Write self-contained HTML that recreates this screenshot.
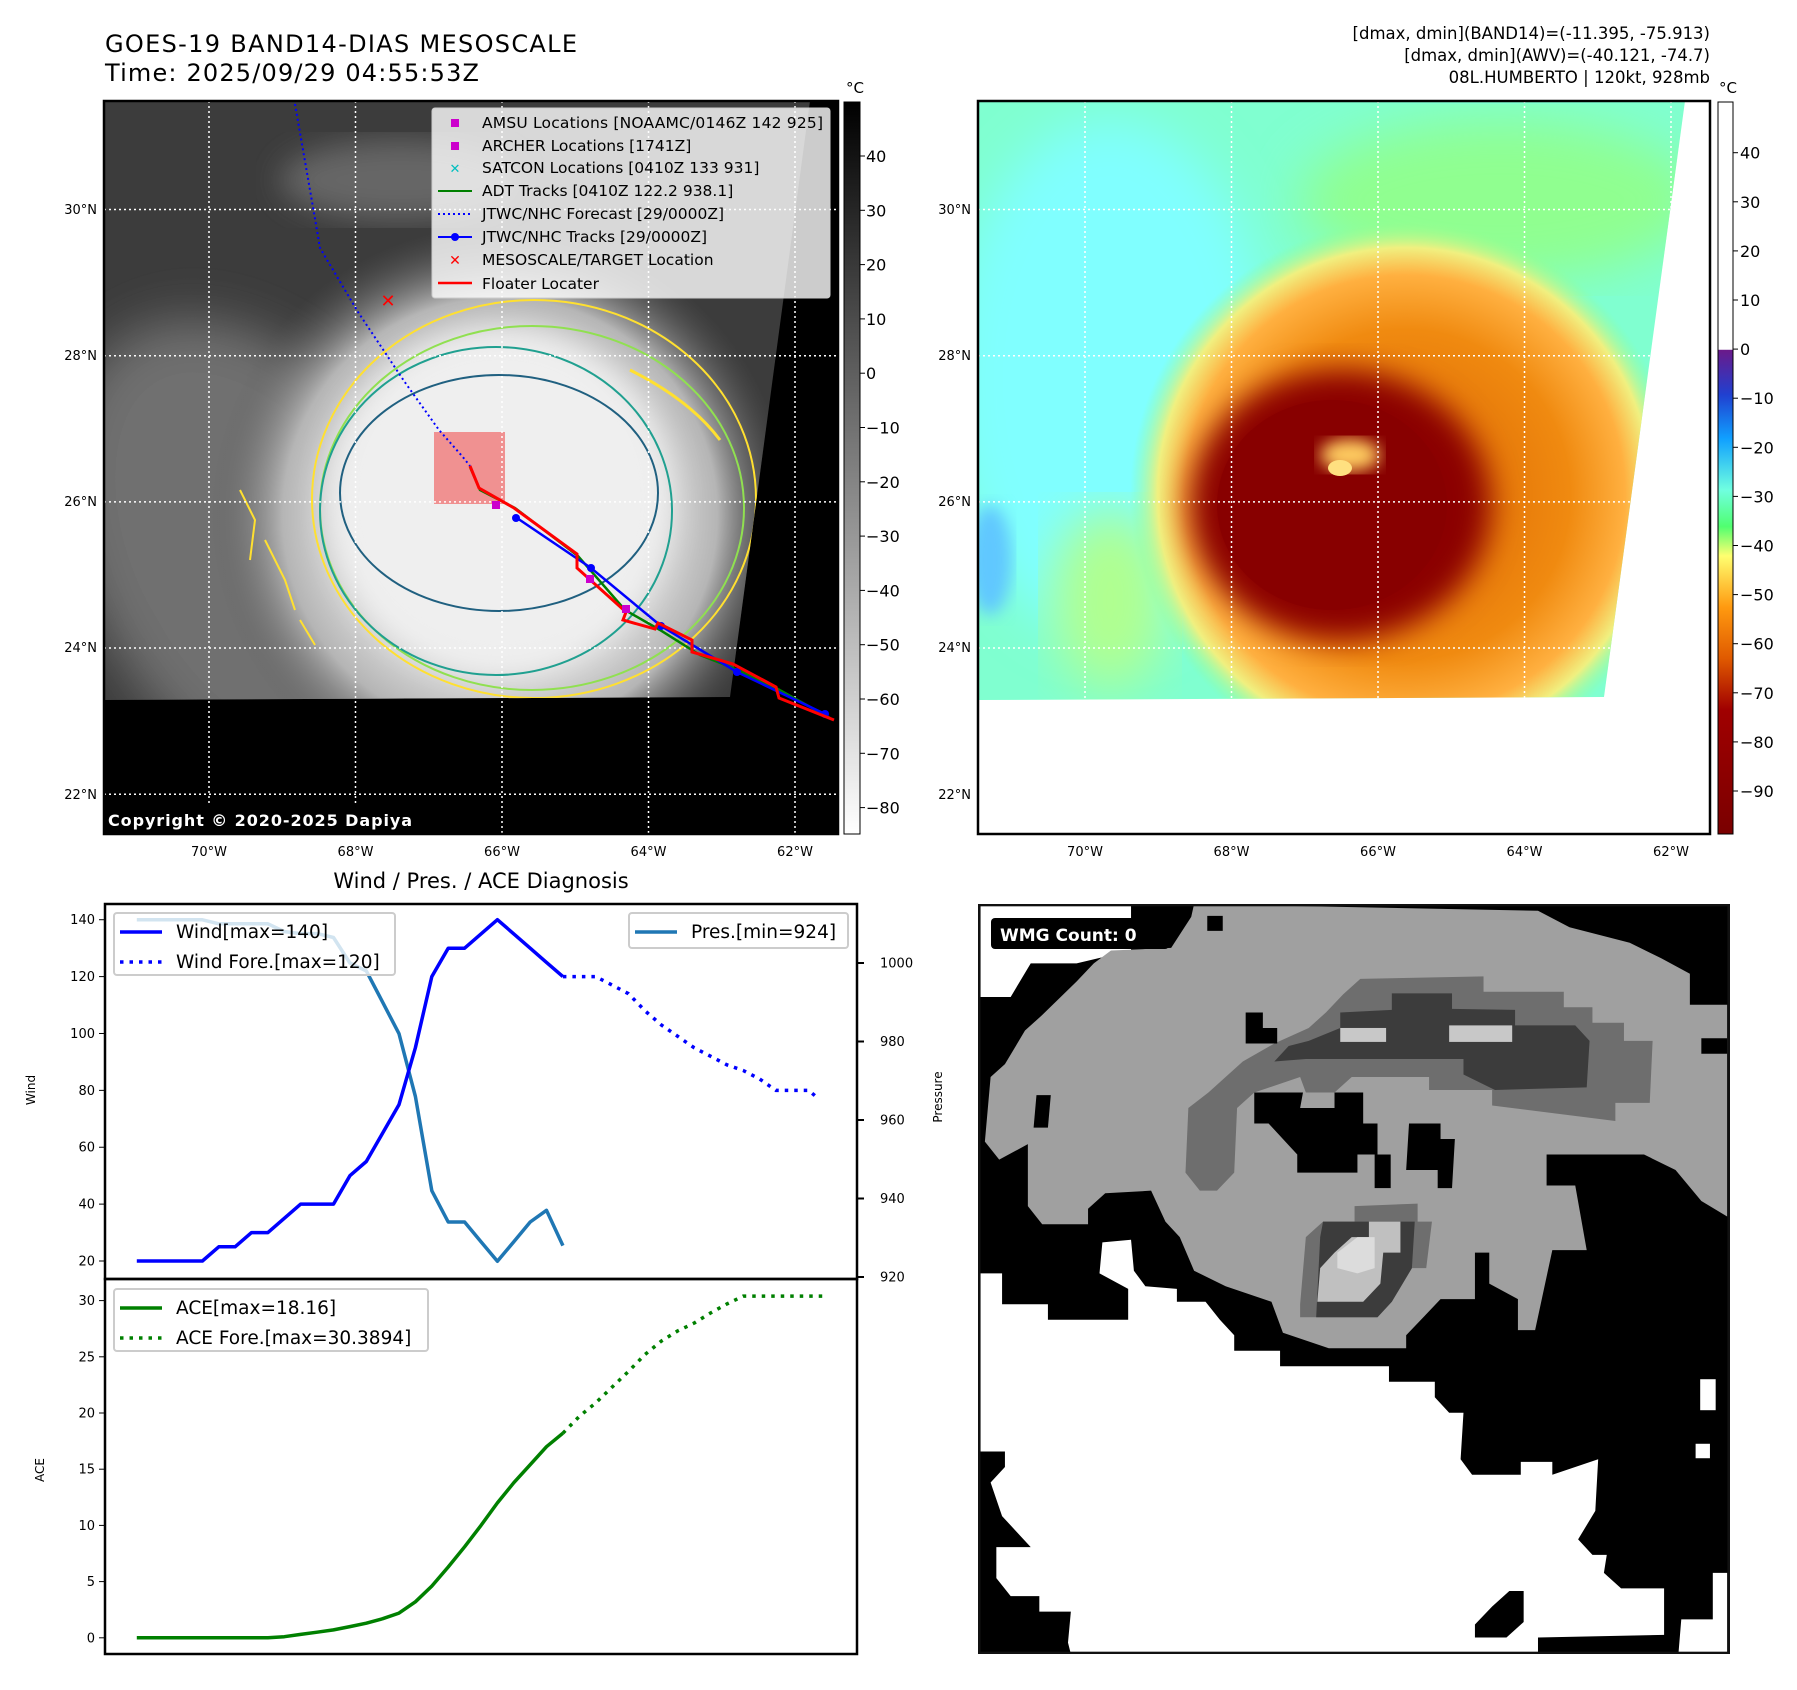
<!DOCTYPE html>
<html><head><meta charset="utf-8"><style>
html,body{margin:0;padding:0;background:#fff}
svg{display:block;font-family:"DejaVu Sans","Liberation Sans",sans-serif}
</style></head><body>
<svg id="fig" width="1797" height="1690" viewBox="0 0 1797 1690" xmlns="http://www.w3.org/2000/svg">
<defs>
  <filter id="blur8"><feGaussianBlur stdDeviation="8"/></filter>
  <filter id="blur15"><feGaussianBlur stdDeviation="15"/></filter>
  <filter id="blur25"><feGaussianBlur stdDeviation="25"/></filter>
  <clipPath id="clipL"><polygon points="104,101 810,101 730,697 104,700"/></clipPath>
  <clipPath id="clipR"><polygon points="978,101 1685,101 1604,697 978,700"/></clipPath>
  <linearGradient id="cbGray" x1="0" y1="0" x2="0" y2="1"><stop offset="0" stop-color="#000"/><stop offset="1" stop-color="#fff"/></linearGradient>
  <linearGradient id="cbColor" x1="0" y1="0" x2="0" y2="1">
    <stop offset="0" stop-color="#fff"/><stop offset="0.338" stop-color="#fff"/>
    <stop offset="0.339" stop-color="#6a1a8a"/><stop offset="0.40" stop-color="#2040d0"/>
    <stop offset="0.46" stop-color="#10a0ff"/><stop offset="0.53" stop-color="#70ffe0"/>
    <stop offset="0.58" stop-color="#50ff70"/><stop offset="0.62" stop-color="#ffff70"/>
    <stop offset="0.69" stop-color="#ff9a10"/><stop offset="0.76" stop-color="#e05a00"/>
    <stop offset="0.83" stop-color="#a00000"/><stop offset="1" stop-color="#7a0000"/>
  </linearGradient>
  <radialGradient id="stormGray" cx="500" cy="515" r="290" gradientUnits="userSpaceOnUse">
    <stop offset="0" stop-color="#f4f4f4"/><stop offset="0.5" stop-color="#e6e6e6"/>
    <stop offset="0.75" stop-color="#b5b5b5"/><stop offset="1" stop-color="#5a5a5a" stop-opacity="0"/>
  </radialGradient>
  <radialGradient id="stormOrange" cx="1405" cy="495" r="275" gradientUnits="userSpaceOnUse">
    <stop offset="0" stop-color="#d86000"/><stop offset="0.6" stop-color="#f08a10"/>
    <stop offset="0.8" stop-color="#ffb040"/><stop offset="0.9" stop-color="#f0f080"/>
    <stop offset="1" stop-color="#90ff90" stop-opacity="0"/>
  </radialGradient>
</defs>

<text x="105" y="52" font-size="24" textLength="472">GOES-19 BAND14-DIAS MESOSCALE</text>
<text x="105" y="81" font-size="24" textLength="374">Time: 2025/09/29 04:55:53Z</text>
<g font-size="16.5" text-anchor="end">
  <text x="1710" y="39">[dmax, dmin](BAND14)=(-11.395, -75.913)</text>
  <text x="1710" y="61">[dmax, dmin](AWV)=(-40.121, -74.7)</text>
  <text x="1710" y="83">08L.HUMBERTO | 120kt, 928mb</text>
</g>

<g>
  <rect x="104" y="101" width="734" height="733" fill="#000"/>
  <g clip-path="url(#clipL)">
    <rect x="104" y="101" width="734" height="600" fill="#3c3c3c"/>
    <ellipse cx="260" cy="560" rx="170" ry="260" fill="#707070" filter="url(#blur25)" transform="rotate(-30 260 560)"/>
    <ellipse cx="400" cy="180" rx="120" ry="40" fill="#666" filter="url(#blur15)"/>
    <circle cx="500" cy="515" r="300" fill="url(#stormGray)"/>
    <circle cx="500" cy="500" r="170" fill="#efefef" filter="url(#blur15)"/>
    <ellipse cx="534" cy="499" rx="222" ry="199" fill="none" stroke="#ffe030" stroke-width="2"/>
    <ellipse cx="532" cy="508" rx="212" ry="182" fill="none" stroke="#90e050" stroke-width="2"/>
    <ellipse cx="496" cy="511" rx="176" ry="164" fill="none" stroke="#20a090" stroke-width="2"/>
    <ellipse cx="499" cy="493" rx="159" ry="118" fill="none" stroke="#206080" stroke-width="2"/>
    <path d="M240,490 l15,30 -5,40 M265,540 l20,40 10,30 M300,620 l15,25" stroke="#ffe030" stroke-width="2" fill="none"/>
    <path d="M630,370 q60,30 90,70" stroke="#ffe030" stroke-width="3" fill="none"/>
  </g>
  <rect x="434" y="432" width="71" height="72" fill="#f08080" opacity="0.85"/>
  <g stroke="#fff" stroke-width="1.5" stroke-dasharray="2,3">
    <line x1="209" y1="101" x2="209" y2="834"/><line x1="355.5" y1="101" x2="355.5" y2="834"/>
    <line x1="502" y1="101" x2="502" y2="834"/><line x1="648.5" y1="101" x2="648.5" y2="834"/>
    <line x1="795" y1="101" x2="795" y2="834"/>
    <line x1="104" y1="209.5" x2="838" y2="209.5"/><line x1="104" y1="355.7" x2="838" y2="355.7"/>
    <line x1="104" y1="501.9" x2="838" y2="501.9"/><line x1="104" y1="648" x2="838" y2="648"/>
    <line x1="104" y1="794.3" x2="838" y2="794.3"/>
  </g>
  <polyline points="295,104 314,213 320,248 358,312 404,381 439,430 462,456 470,466" fill="none" stroke="#0000ff" stroke-width="2" stroke-dasharray="2,3"/>
  <polyline points="470,467 480,490 515,508 578,556 625,610 660,630 700,655 738,670 776,688 830,718" fill="none" stroke="#008000" stroke-width="2.5"/>
  <polyline points="514,516 591,568 661,626 737,672 825,714" fill="none" stroke="#0000ff" stroke-width="2.5"/>
  <g fill="#0000ff"><circle cx="516" cy="518" r="4"/><circle cx="591" cy="568" r="4"/><circle cx="661" cy="626" r="4"/><circle cx="737" cy="672" r="4"/><circle cx="825" cy="714" r="4"/></g>
  <polyline points="470,466 479,488 514,508 577,554 577,568 626,612 623,620 655,629 658,623 692,640 692,652 733,664 776,687 779,698 834,720" fill="none" stroke="#ff0000" stroke-width="3"/>
  <g fill="#cc00cc"><rect x="492" y="501" width="8" height="8"/><rect x="586" y="575" width="8" height="8"/><rect x="622" y="605" width="8" height="8"/></g>
  <text x="388" y="307" font-size="18" font-weight="bold" fill="#ff0000" text-anchor="middle">✕</text>
  <rect x="104" y="806" width="312" height="28" fill="#000"/>
  <text x="108" y="826" font-size="16" font-weight="bold" fill="#fff" textLength="304">Copyright © 2020-2025 Dapiya</text>
  <rect x="104" y="101" width="734" height="733" fill="none" stroke="#000" stroke-width="2.5"/>
</g>

<g font-size="15.5">
  <rect x="432" y="108" width="398" height="190" rx="3" fill="#fff" fill-opacity="0.8" stroke="#ccc"/>
  <rect x="451" y="119" width="8" height="8" fill="#cc00cc"/><text x="482" y="128" textLength="341">AMSU Locations [NOAAMC/0146Z 142 925]</text>
  <rect x="451" y="142" width="8" height="8" fill="#cc00cc"/><text x="482" y="151">ARCHER Locations [1741Z]</text>
  <text x="455" y="173" fill="#00bfbf" text-anchor="middle" font-size="13" font-weight="bold">✕</text><text x="482" y="173">SATCON Locations [0410Z 133 931]</text>
  <line x1="438" y1="191" x2="472" y2="191" stroke="#008000" stroke-width="2"/><text x="482" y="196">ADT Tracks [0410Z 122.2 938.1]</text>
  <line x1="438" y1="214" x2="472" y2="214" stroke="#0000ff" stroke-width="2" stroke-dasharray="2,3"/><text x="482" y="219">JTWC/NHC Forecast [29/0000Z]</text>
  <line x1="438" y1="237" x2="472" y2="237" stroke="#0000ff" stroke-width="2"/><circle cx="455" cy="237" r="4" fill="#0000ff"/><text x="482" y="242">JTWC/NHC Tracks [29/0000Z]</text>
  <text x="455" y="265" fill="#ff0000" text-anchor="middle" font-size="14" font-weight="bold">✕</text><text x="482" y="265">MESOSCALE/TARGET Location</text>
  <line x1="438" y1="283" x2="472" y2="283" stroke="#ff0000" stroke-width="2.5"/><text x="482" y="289">Floater Locater</text>
</g>

<g>
  <rect x="844" y="102" width="16" height="732" fill="url(#cbGray)" stroke="#000" stroke-width="1"/>
  <text x="855" y="93" font-size="15" text-anchor="middle">°C</text>
  <g font-size="16" id="cbLticks"></g>
</g>

<g font-size="13">
  <g text-anchor="end"><text x="97" y="214">30°N</text><text x="97" y="360">28°N</text><text x="97" y="506">26°N</text><text x="97" y="652">24°N</text><text x="97" y="799">22°N</text></g>
  <g text-anchor="middle"><text x="209" y="856">70°W</text><text x="355.5" y="856">68°W</text><text x="502" y="856">66°W</text><text x="648.5" y="856">64°W</text><text x="795" y="856">62°W</text></g>
  <g text-anchor="end"><text x="971" y="214">30°N</text><text x="971" y="360">28°N</text><text x="971" y="506">26°N</text><text x="971" y="652">24°N</text><text x="971" y="799">22°N</text></g>
  <g text-anchor="middle"><text x="1085" y="856">70°W</text><text x="1231.5" y="856">68°W</text><text x="1378" y="856">66°W</text><text x="1524.5" y="856">64°W</text><text x="1671" y="856">62°W</text></g>
</g>

<g>
  <rect x="978" y="101" width="732" height="733" fill="#fff"/>
  <g clip-path="url(#clipR)">
    <rect x="978" y="101" width="732" height="600" fill="#80ffd0"/>
    <ellipse cx="1110" cy="380" rx="160" ry="260" fill="#80ffff" filter="url(#blur25)"/>
    <ellipse cx="990" cy="560" rx="22" ry="55" fill="#60c8ff" filter="url(#blur8)"/>
    <ellipse cx="1500" cy="200" rx="200" ry="80" fill="#90ff90" filter="url(#blur25)"/>
    <ellipse cx="1110" cy="600" rx="60" ry="90" fill="#b0ff90" filter="url(#blur25)"/>
    <circle cx="1405" cy="495" r="280" fill="url(#stormOrange)"/>
    <ellipse cx="1340" cy="505" rx="150" ry="135" fill="#8b0000" filter="url(#blur15)"/>
    <ellipse cx="1332" cy="505" rx="115" ry="105" fill="#880000"/>
    <ellipse cx="1350" cy="455" rx="30" ry="16" fill="#ffcc60" filter="url(#blur8)"/>
    <ellipse cx="1340" cy="468" rx="12" ry="8" fill="#ffe080"/>
  </g>
  <g stroke="#fff" stroke-width="1.5" stroke-dasharray="2,3">
    <line x1="1085" y1="101" x2="1085" y2="700"/><line x1="1231.5" y1="101" x2="1231.5" y2="700"/>
    <line x1="1378" y1="101" x2="1378" y2="700"/><line x1="1524.5" y1="101" x2="1524.5" y2="700"/>
    <line x1="1671" y1="101" x2="1671" y2="300"/>
    <line x1="978" y1="209.5" x2="1680" y2="209.5"/><line x1="978" y1="355.7" x2="1660" y2="355.7"/>
    <line x1="978" y1="501.9" x2="1640" y2="501.9"/><line x1="978" y1="648" x2="1615" y2="648"/>
  </g>
  <rect x="978" y="101" width="732" height="733" fill="none" stroke="#000" stroke-width="2.5"/>
</g>
<g>
  <rect x="1718" y="102" width="15" height="732" fill="url(#cbColor)" stroke="#000" stroke-width="1"/>
  <text x="1728" y="93" font-size="15" text-anchor="middle">°C</text>
  <g font-size="16" id="cbRticks"></g>
</g>

<text x="481" y="888" font-size="21" text-anchor="middle">Wind / Pres. / ACE Diagnosis</text>
<g id="chart"></g>

<g>
<svg x="978" y="904" width="752" height="750" viewBox="138 45 1312 1452" preserveAspectRatio="none">
  <rect x="138" y="45" width="1312" height="1452" fill="#000"/>
  <polygon fill="#fff" points="140,45 405,45 405,135 310,160 230,160 195,225 140,225"/>
  <polygon fill="#fff" points="140,760 180,760 180,820 260,820 260,850 400,850 400,790 350,760 355,700 405,695 410,755 430,785 485,790 485,815 535,815 560,850 585,880 585,910 665,910 665,940 855,940 855,970 935,970 935,1000 960,1030 985,1030 980,1120 1000,1150 1085,1150 1085,1125 1140,1125 1140,1150 1220,1120 1215,1220 1185,1275 1210,1305 1235,1305 1230,1340 1260,1370 1335,1370 1335,1460 1115,1465 1115,1497 300,1497 295,1475 300,1415 245,1415 245,1385 195,1385 170,1350 170,1290 230,1290 205,1260 180,1230 160,1165 185,1135 185,1105 140,1105"/>
  <polygon fill="#000" points="1005,1440 1035,1405 1065,1375 1090,1375 1090,1435 1060,1465 1005,1465"/>
  <rect x="1398" y="965" width="27" height="60" fill="#fff"/><rect x="1390" y="1090" width="25" height="28" fill="#fff"/>
  <polygon fill="#fff" points="1420,1340 1445,1340 1445,1497 1360,1497 1365,1430 1420,1430"/>
  <polygon fill="#a0a0a0" points="515,45 1115,58 1170,90 1275,120 1330,150 1380,180 1380,240 1445,240 1445,650 1400,620 1355,560 1300,530 1130,530 1130,590 1180,590 1200,715 1140,715 1110,870 1080,870 1080,810 1030,780 1030,720 1005,720 1005,810 945,810 915,845 885,880 885,905 750,905 670,875 650,815 570,785 515,755 490,690 465,660 440,600 360,605 330,635 330,665 250,665 225,630 225,510 175,540 150,505 160,380 185,355 220,290 250,260 310,195 340,160 370,135 475,130 510,70"/>
  <polygon fill="#000" points="538,68 565,68 565,97 538,97"/>
  <polygon fill="#000" points="240,415 265,415 260,478 235,478"/>
  <polygon fill="#000" points="1400,305 1445,305 1445,335 1400,335"/>
  <polygon fill="#6e6e6e" points="805,190 1020,185 1020,215 1160,215 1160,245 1210,245 1210,275 1265,275 1265,310 1315,310 1310,430 1250,430 1250,465 1035,435 1035,405 925,405 925,380 790,380 760,410 710,410 700,380 620,410 590,440 585,565 555,600 525,600 500,565 505,440 540,410 570,380 600,350 655,315 715,285 745,255 775,220"/>
  <polygon fill="#3c3c3c" points="860,218 965,218 965,248 1075,250 1075,280 1180,280 1205,310 1200,400 1040,405 985,375 985,345 710,345 655,350 680,320 715,310 770,285 770,255 860,250"/>
  <rect x="770" y="285" width="80" height="27" fill="#c8c8c8"/><rect x="960" y="280" width="110" height="32" fill="#c8c8c8"/>
  <polygon fill="#000" points="605,255 635,255 635,285 660,285 660,315 605,315"/>
  <polygon fill="#000" points="620,410 705,410 700,440 760,440 760,410 810,410 810,470 835,470 835,530 800,530 800,565 695,565 695,530 670,500 645,470 620,470"/>
  <polygon fill="#000" points="890,470 945,470 945,500 970,500 965,595 940,595 940,560 885,560"/>
  <rect x="830" y="530" width="28" height="65" fill="#000"/>
  <polygon fill="#6e6e6e" points="795,630 905,625 905,660 930,660 920,750 895,750 860,815 835,845 700,845 700,820 710,690 740,660 795,660"/>
  <polygon fill="#3c3c3c" points="740,660 900,660 895,750 860,815 835,845 728,845 735,690"/>
  <polygon fill="#c0c0c0" points="820,660 875,660 875,720 845,720 840,780 810,815 730,815 735,750 760,720 790,690 820,690"/>
  <polygon fill="#dcdcdc" points="800,690 830,690 830,750 800,760 765,750 765,720"/>
  <rect x="140" y="47" width="1308" height="1448" fill="none" stroke="#111" stroke-width="5"/>
</svg>
  <rect x="991" y="918" width="178" height="31" rx="4" fill="#000"/>
  <text x="1000" y="941" font-size="17" font-weight="bold" fill="#fff">WMG Count: 0</text>
</g>

<script>
const cbLeftTicks = [40,30,20,10,0,-10,-20,-30,-40,-50,-60,-70,-80];
const cbRightTicks = [40,30,20,10,0,-10,-20,-30,-40,-50,-60,-70,-80,-90];
const windObs = [20,20,20,20,20,25,25,30,30,35,40,40,40,50,55,65,75,95,120,130,130,135,140,135,130,125,120];
const windForeX = [26,28,29,30,31,32,33,34,35,36,37,38,39,40,41,41.6];
const windFore = [120,120,117,114,108,103,99,95,92,89,87,84,80,80,80,77];
const presObs = [1011,1011,1011,1011,1011,1010,1010,1010,1010,1008,1007.5,1007.5,1006.5,1000,998,990,982,966,942,934,934,929,924,929,934,937,928];
const aceObs = [0,0,0,0,0,0,0,0,0,0.1,0.3,0.5,0.7,1.0,1.3,1.7,2.2,3.2,4.6,6.3,8.1,10,12,13.8,15.4,17,18.2];
const aceFore = [18.2,19.7,20.9,22.3,23.7,25.2,26.4,27.3,28,28.9,29.7,30.4,30.4,30.4,30.4,30.4,30.4];
const aceForeStart = 26;
const windTicks = [20,40,60,80,100,120,140];
const presTicks = [920,940,960,980,1000];
const aceTicks = [0,5,10,15,20,25,30];

const NS = "http://www.w3.org/2000/svg";
function mk(tag, attrs, parent){const e=document.createElementNS(NS,tag);for(const k in attrs)e.setAttribute(k,attrs[k]);parent.appendChild(e);return e;}

const cbL = document.getElementById('cbLticks');
cbLeftTicks.forEach(v=>{const y=156+(40-v)*5.43;
  mk('line',{x1:860,y1:y,x2:865,y2:y,stroke:'#000'},cbL);
  const t=mk('text',{x:866,y:y+6},cbL);t.textContent=String(v).replace('-','\u2212');
  
  });
const cbR = document.getElementById('cbRticks');
cbRightTicks.forEach(v=>{const y=152.7+(40-v)*4.91;
  mk('line',{x1:1733,y1:y,x2:1738,y2:y,stroke:'#000'},cbR);
  const t=mk('text',{x:1740,y:y+6},cbR);t.textContent=String(v).replace('-','\u2212');
  
  });

const xS = i => 136.8 + i*16.39;
const yW = v => 1261 - (v-20)*2.844;
const yP = p => 1277 - (p-920)*3.925;
const yA = a => 1637.8 - a*11.24;
const ch = document.getElementById('chart');
mk('rect',{x:105,y:904,width:752,height:375,fill:'none',stroke:'#000','stroke-width':2.5},ch);
mk('rect',{x:105,y:1279,width:752,height:375,fill:'none',stroke:'#000','stroke-width':2.5},ch);
windTicks.forEach(v=>{const y=yW(v);mk('line',{x1:99,y1:y,x2:105,y2:y,stroke:'#000'},ch);
  const t=mk('text',{x:95,y:y+4.5,'font-size':13,'text-anchor':'end'},ch);t.textContent=v;
  
  });
presTicks.forEach(v=>{const y=yP(v);mk('line',{x1:857,y1:y,x2:864,y2:y,stroke:'#000','stroke-width':2},ch);
  const t=mk('text',{x:880,y:y+4.5,'font-size':13},ch);t.textContent=v;
  
  });
aceTicks.forEach(v=>{const y=yA(v);mk('line',{x1:99,y1:y,x2:105,y2:y,stroke:'#000'},ch);
  const t=mk('text',{x:95,y:y+4.5,'font-size':13,'text-anchor':'end'},ch);t.textContent=v;
  
  });
let t;
t=mk('text',{x:0,y:0,'font-size':12,transform:'translate(35,1090) rotate(-90)','text-anchor':'middle'},ch);t.textContent='Wind';


t=mk('text',{x:0,y:0,'font-size':12,transform:'translate(44,1470) rotate(-90)','text-anchor':'middle'},ch);t.textContent='ACE';


t=mk('text',{x:0,y:0,'font-size':12,transform:'translate(942,1097) rotate(-90)','text-anchor':'middle'},ch);t.textContent='Pressure';



function line(xs, ys, color, dash, name){
  const pts = xs.map((x,i)=>x.toFixed(1)+','+ys[i].toFixed(1)).join(' ');
  const a={points:pts,fill:'none',stroke:color,'stroke-width':3.5,'stroke-linejoin':'round'};
  if(dash) a['stroke-dasharray']=dash;
  const e=mk('polyline',a,ch);
  
  
}
line(presObs.map((_,i)=>xS(i)), presObs.map(yP), '#1f77b4', null, 'pressure-line');
line(windObs.map((_,i)=>xS(i)), windObs.map(yW), '#0000ff', null, 'wind-line');
line(windForeX.map(xS), windFore.map(yW), '#0000ff', '3.5,6', 'wind-forecast-line');
line(aceObs.map((_,i)=>xS(i)), aceObs.map(yA), '#008000', null, 'ace-line');
line(aceFore.map((_,i)=>xS(aceForeStart+i)), aceFore.map(yA), '#008000', '3.5,6', 'ace-forecast-line');

function legend(x,y,w,h,items,name){
  const g=mk('g',{},ch);
  
  
  mk('rect',{x:x,y:y,width:w,height:h,rx:3,fill:'#fff','fill-opacity':0.8,stroke:'#ccc','stroke-width':2},g);
  items.forEach((it,i)=>{const yy=y+19+i*30;
    const a={x1:x+6,y1:yy,x2:x+48,y2:yy,stroke:it[1],'stroke-width':3.5};
    if(it[2]) a['stroke-dasharray']='3.5,6';
    mk('line',a,g);
    const tt=mk('text',{x:x+62,y:yy+6,'font-size':18.5},g);tt.textContent=it[0];});
}
legend(114,913,281,62,[['Wind[max=140]','#0000ff',false],['Wind Fore.[max=120]','#0000ff',true]],'wind-legend');
legend(629,913,219,35,[['Pres.[min=924]','#1f77b4',false]],'pressure-legend');
legend(114,1289,314,62,[['ACE[max=18.16]','#008000',false],['ACE Fore.[max=30.3894]','#008000',true]],'ace-legend');
</script>
</svg>
</body></html>
